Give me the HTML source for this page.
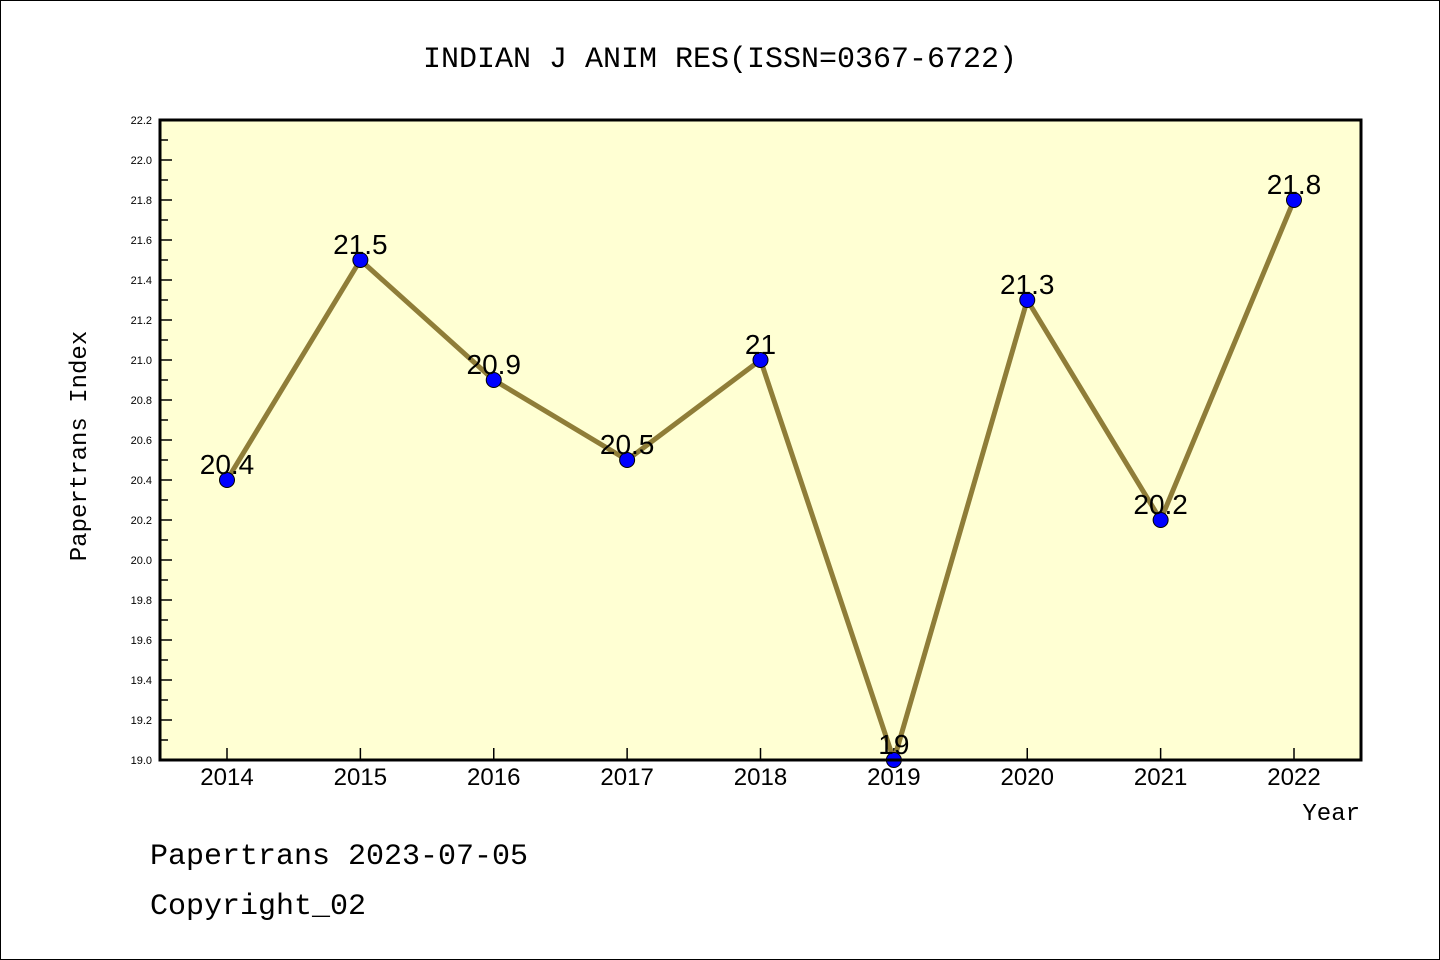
<!DOCTYPE html>
<html><head><meta charset="utf-8"><style>
body{margin:0;background:#fff}
svg{display:block;font-family:"Liberation Mono","Noto Sans CJK SC",monospace}
</style></head><body>
<svg width="1440" height="960" viewBox="0 0 1440 960">
<rect x="0.5" y="0.5" width="1439" height="959" fill="#fff" stroke="#000"/>
<text x="720" y="67" text-anchor="middle" font-size="30">INDIAN J ANIM RES(ISSN=0367-6722)</text>
<rect x="160" y="120" width="1201" height="640" fill="#ffffd3"/>
<g id="axes"></g>
<g id="marks"></g>
<rect x="160" y="120" width="1201" height="640" fill="none" stroke="#000" stroke-width="3"/>
<text x="86" y="446" text-anchor="middle" font-size="24" transform="rotate(-90 86 446)">Papertrans Index</text>
<text x="1360" y="820" text-anchor="end" font-size="24">Year</text>
<text x="150" y="864" font-size="30">Papertrans 2023-07-05</text>
<text x="150" y="914" font-size="30">Copyright_02</text>
</svg>
<script>
const years = ["2014","2015","2016","2017","2018","2019","2020","2021","2022"];
const values = [20.4,21.5,20.9,20.5,21.0,19.0,21.3,20.2,21.8];
const valueLabels = ["20.4","21.5","20.9","20.5","21","19","21.3","20.2","21.8"];
const yTicks = [19.0,19.2,19.4,19.6,19.8,20.0,20.2,20.4,20.6,20.8,21.0,21.2,21.4,21.6,21.8,22.0,22.2];
const yMin = 19.0, yMax = 22.2;
const NS = "http://www.w3.org/2000/svg";
function xs(i){return 227 + i*(1294-227)/(years.length-1);}
function ys(v){return 760 - (v-yMin)/(yMax-yMin)*640;}
function mk(tag, attrs, parent){const e=document.createElementNS(NS,tag);for(const k in attrs)e.setAttribute(k,attrs[k]);parent.appendChild(e);return e;}
const axes=document.getElementById('axes'), marks=document.getElementById('marks');
yTicks.forEach((t,i)=>{
  const y=ys(t);
  const l=mk('line',{x1:160,x2:172,y1:y,y2:y,stroke:'#000','stroke-width':1.5},axes);
  
  
  const tx=mk('text',{x:152,y:y+4,'text-anchor':'end','font-size':11,'font-family':'Liberation Sans, sans-serif'},axes);
  tx.textContent=t.toFixed(1);
  
  
  if(i<yTicks.length-1){
    const ym=ys(t+0.1);
    const m=mk('line',{x1:160,x2:168,y1:ym,y2:ym,stroke:'#000','stroke-width':1.5},axes);
    
    
  }
});
years.forEach((yr,i)=>{
  const x=xs(i);
  const l=mk('line',{x1:x,x2:x,y1:760,y2:748,stroke:'#000','stroke-width':1.5},axes);
  
  
  const tx=mk('text',{x:x,y:785,'text-anchor':'middle','font-size':24,'font-family':'Liberation Sans, sans-serif'},axes);
  tx.textContent=yr;
  
  
});
const pts=values.map((v,i)=>xs(i)+','+ys(v)).join(' ');
const line=mk('polyline',{points:pts,fill:'none',stroke:'#8f7d38','stroke-width':5,'stroke-linejoin':'round'},marks);


values.forEach((v,i)=>{
  const c=mk('circle',{cx:xs(i),cy:ys(v),r:7.5,fill:'#0000ff',stroke:'#000','stroke-width':1},marks);
  
  
  const t=mk('text',{x:xs(i),y:ys(v)-6,'text-anchor':'middle','font-size':28,'font-family':'Liberation Sans, sans-serif'},marks);
  t.textContent=valueLabels[i];
  
  
});
</script>
</body></html>
